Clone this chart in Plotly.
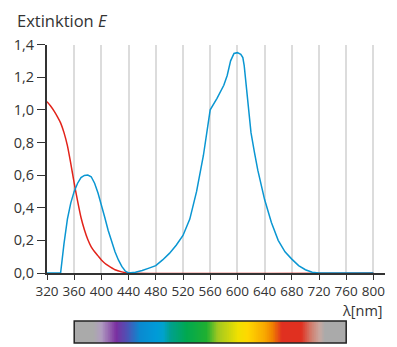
import numpy as np
import plotly.graph_objects as go

# ---- data ----
red_nm = [320, 325, 330, 335, 340, 345, 350, 355, 360, 365, 370, 375, 380, 385, 390,
          395, 400, 405, 410, 420, 430, 440, 800]
red_E = [1.05, 1.025, 0.995, 0.96, 0.92, 0.86, 0.78, 0.67, 0.55, 0.44, 0.34, 0.265, 0.205,
         0.16, 0.13, 0.105, 0.08, 0.06, 0.045, 0.02, 0.007, 0.0, 0.0]

blue_nm = [320, 340, 345, 350, 355, 360, 365, 370, 375, 380, 385, 390, 395, 400, 405,
           410, 415, 420, 425, 430, 435, 440, 450, 460, 470, 480, 490, 500, 510, 520,
           530, 540, 550, 560, 570, 580, 585, 590, 595, 600, 605, 608, 610, 612, 615,
           620, 625, 630, 640, 650, 660, 670, 680, 690, 700, 710, 720, 800]
blue_E = [0.0, 0.0, 0.18, 0.33, 0.43, 0.50, 0.55, 0.585, 0.598, 0.60, 0.59, 0.55, 0.49,
          0.42, 0.34, 0.26, 0.19, 0.13, 0.08, 0.04, 0.012, 0.0, 0.005, 0.015, 0.03, 0.045,
          0.08, 0.12, 0.17, 0.23, 0.33, 0.50, 0.72, 1.0, 1.07, 1.15, 1.21, 1.30, 1.345,
          1.35, 1.34, 1.32, 1.27, 1.18, 1.05, 0.86, 0.74, 0.63, 0.45, 0.31, 0.20, 0.13,
          0.085, 0.045, 0.02, 0.005, 0.0, 0.0]

x_ticks = [320, 360, 400, 440, 480, 520, 560, 600, 640, 680, 720, 760, 800]
y_ticks = [0.0, 0.2, 0.4, 0.6, 0.8, 1.0, 1.2, 1.4]

spectrum_start, spectrum_end = 360, 760
spectrum_stops_nm = [360, 388, 400, 422, 437, 457, 481, 491, 501, 525, 555, 571, 601,
                     615, 640, 652, 665, 694, 709, 721, 729, 760]
spectrum_colors = ["#aaaaaa", "#aaaaaa", "#b09cc0", "#7a2fa0", "#5050b4", "#0a8ad0",
                   "#009bd8", "#00a2cc", "#00a090", "#00a850", "#20b030", "#a0c820",
                   "#f0e000", "#ffd800", "#f8a800", "#f08000", "#e03020", "#e03020",
                   "#d08070", "#c8a8a0", "#aaaaaa", "#aaaaaa"]

# page body has an 8px default margin: figure is placed at (8, 8) in the window
OFF = 8
W, H = 397 - OFF, 347 - OFF
FONT = "Open Sans"
DARK = "#333333"


def px(x):
    return (x - OFF) / W


def py(y):
    return (H - (y - OFF)) / H


fig = go.Figure()
fig.add_trace(go.Scatter(x=red_nm, y=red_E, mode="lines",
                         line=dict(color="#e2231a", width=1.5, shape="spline", smoothing=0.6),
                         xaxis="x", yaxis="y"))
fig.add_trace(go.Scatter(x=blue_nm, y=blue_E, mode="lines",
                         line=dict(color="#0a96d2", width=1.5), xaxis="x", yaxis="y"))

# spectrum bar
cells = np.arange(spectrum_start, spectrum_end) + 0.5
span = spectrum_end - spectrum_start
cscale = [[(s - spectrum_start) / span, c] for s, c in zip(spectrum_stops_nm, spectrum_colors)]
fig.add_trace(go.Heatmap(x=cells, y=[0], z=[list(cells)], colorscale=cscale,
                         zmin=spectrum_start, zmax=spectrum_end, showscale=False,
                         hoverinfo="skip", xaxis="x2", yaxis="y2"))

x_dom = [px(47), px(385)]
x_range = [320, 320 + (385 - 47) / (27.2 / 40)]

fig.update_layout(
    width=W, height=H,
    margin=dict(l=0, r=0, t=0, b=0, autoexpand=False),
    paper_bgcolor="white", plot_bgcolor="white",
    showlegend=False,
    separators=",.",
    font=dict(family=FONT, color=DARK),
    xaxis=dict(domain=x_dom, range=x_range, anchor="y", automargin=False,
               tickvals=x_ticks, ticks="outside", ticklen=5, tickwidth=1.2,
               tickcolor=DARK, showline=True, linecolor=DARK, linewidth=1.5,
               showgrid=True, gridcolor="#dcdcdc", gridwidth=1.5, zeroline=False,
               tickfont=dict(size=13.5, color=DARK, family=FONT)),
    yaxis=dict(domain=[py(273), py(44.5)], range=[0, 1.4], anchor="x",
               automargin=False,
               tickvals=y_ticks, tickformat=".1f", ticks="outside", ticklen=8,
               tickwidth=1.2, tickcolor=DARK, showline=True, linecolor=DARK,
               linewidth=2, showgrid=False, zeroline=False,
               tickfont=dict(size=14.5, color=DARK, family=FONT)),
    xaxis2=dict(domain=x_dom, range=x_range, anchor="y2", visible=False, automargin=False),
    yaxis2=dict(domain=[py(343), py(321)], range=[-0.5, 0.5],
                anchor="x2", visible=False, automargin=False),
    shapes=[dict(type="rect", xref="x2", yref="y2 domain", x0=spectrum_start,
                 x1=spectrum_end, y0=0, y1=1, line=dict(color="#222222", width=1.5))],
    annotations=[
        dict(text="Extinktion <i>E</i>", xref="paper", yref="paper", x=px(16),
             y=1.0, xanchor="left", yanchor="top", showarrow=False, borderpad=0,
             font=dict(size=16.5, color=DARK, family=FONT)),
        dict(text="λ[nm]", xref="paper", yref="paper", x=px(385), y=py(310),
             xanchor="right", yanchor="middle", showarrow=False,
             font=dict(size=14.5, color=DARK, family=FONT)),
    ],
)

fig.write_html("out.html")
